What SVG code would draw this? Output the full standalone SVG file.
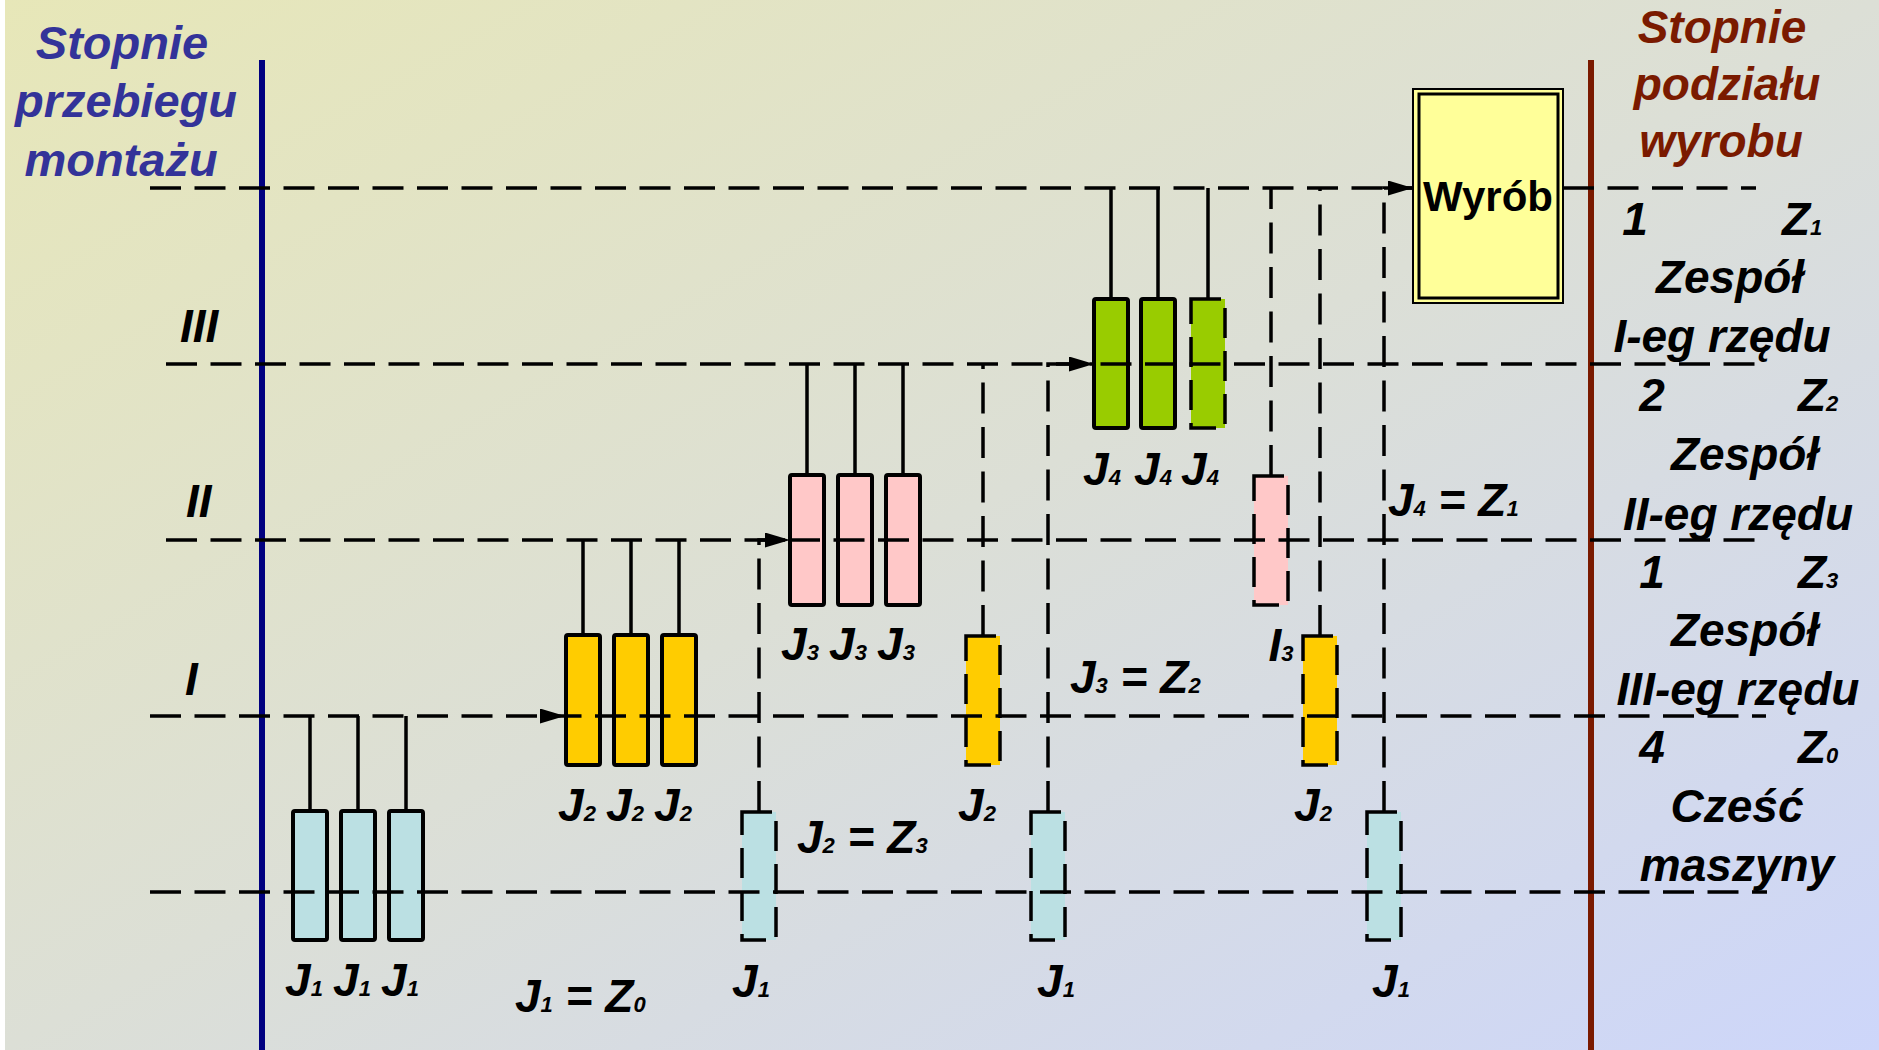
<svg xmlns="http://www.w3.org/2000/svg" width="1879" height="1050" viewBox="0 0 1879 1050">
<defs>
<linearGradient id="bg" x1="0" y1="0" x2="1" y2="1">
<stop offset="0" stop-color="#E7E7B8"/>
<stop offset="0.5" stop-color="#DCDFD6"/>
<stop offset="1" stop-color="#CDD6FA"/>
</linearGradient>
<marker id="arr" markerUnits="userSpaceOnUse" viewBox="0 0 25 15" refX="25" refY="7.5" markerWidth="25" markerHeight="15" orient="auto">
<path d="M0 0 L25 7.5 L0 15 Z" fill="#000"/>
</marker>
<style>
text{font-family:"Liberation Sans",Arial,sans-serif;font-weight:bold;font-style:italic;font-size:46px;fill:#000}
.m{text-anchor:middle}
.s{font-size:22px}
.tl{fill:#333399;font-size:47px}
.tr{fill:#7A1A00}
.up{font-style:normal;font-size:42px}
.dash{fill:none;stroke:#000;stroke-width:3.5;stroke-dasharray:31 13.5}
.solid{fill:none;stroke:#000;stroke-width:3.5}
.box{stroke:#000;stroke-width:4}
.dbox{stroke:#000;stroke-width:3.5;stroke-dasharray:30 13}
.c{fill:#BBE0E3}
.y{fill:#FFCC00}
.p{fill:#FFC8C8}
.g{fill:#99CC00}
</style>
</defs>
<rect x="0" y="0" width="1879" height="1050" fill="url(#bg)"/>
<rect x="0" y="0" width="5" height="1050" fill="#FFFFFF"/>

<g id="axes">
<line x1="262" y1="60" x2="262" y2="1050" stroke="#000080" stroke-width="6"/>
<line x1="1591" y1="60" x2="1591" y2="1050" stroke="#7A1A00" stroke-width="6"/>
</g>

<g id="titles">
<text class="m tl" x="122" y="59">Stopnie</text>
<text class="m tl" x="126" y="117">przebiegu</text>
<text class="m tl" x="121" y="176">montażu</text>
<text class="m tr" x="1722" y="43">Stopnie</text>
<text class="m tr" x="1727" y="100">podziału</text>
<text class="m tr" x="1721" y="157">wyrobu</text>
<text x="180" y="342">III</text>
<text x="186" y="517">II</text>
<text x="185" y="695">I</text>
</g>

<g id="nodes-J1-group">
<rect class="box c" x="293" y="811" width="34" height="129" rx="2"/>
<rect class="box c" x="341" y="811" width="34" height="129" rx="2"/>
<rect class="box c" x="389" y="811" width="34" height="129" rx="2"/>
<text class="m" x="304" y="996">J<tspan class="s">1</tspan></text>
<text class="m" x="352" y="996">J<tspan class="s">1</tspan></text>
<text class="m" x="400" y="996">J<tspan class="s">1</tspan></text>
</g>
<g id="nodes-J2-group">
<rect class="box y" x="566" y="635" width="34" height="130" rx="2"/>
<rect class="box y" x="614" y="635" width="34" height="130" rx="2"/>
<rect class="box y" x="662" y="635" width="34" height="130" rx="2"/>
<text class="m" x="577" y="821">J<tspan class="s">2</tspan></text>
<text class="m" x="625" y="821">J<tspan class="s">2</tspan></text>
<text class="m" x="673" y="821">J<tspan class="s">2</tspan></text>
</g>
<g id="nodes-J3-group">
<rect class="box p" x="790" y="475" width="34" height="130" rx="2"/>
<rect class="box p" x="838" y="475" width="34" height="130" rx="2"/>
<rect class="box p" x="886" y="475" width="34" height="130" rx="2"/>
<text class="m" x="800" y="660">J<tspan class="s">3</tspan></text>
<text class="m" x="848" y="660">J<tspan class="s">3</tspan></text>
<text class="m" x="896" y="660">J<tspan class="s">3</tspan></text>
</g>
<g id="nodes-J4-group">
<rect class="box g" x="1094" y="299" width="34" height="129" rx="2"/>
<rect class="box g" x="1141" y="299" width="34" height="129" rx="2"/>
<rect class="dbox g" x="1191" y="299" width="34" height="129"/>
<text class="m" x="1102" y="485">J<tspan class="s">4</tspan></text>
<text class="m" x="1153" y="485">J<tspan class="s">4</tspan></text>
<text class="m" x="1200" y="485">J<tspan class="s">4</tspan></text>
</g>
<g id="node-J1-a">
<rect class="dbox c" x="742" y="812" width="34" height="128"/>
<text class="m" x="751" y="997">J<tspan class="s">1</tspan></text>
</g>
<g id="node-J1-b">
<rect class="dbox c" x="1031" y="812" width="34" height="128"/>
<text class="m" x="1056" y="997">J<tspan class="s">1</tspan></text>
</g>
<g id="node-J1-c">
<rect class="dbox c" x="1367" y="812" width="34" height="128"/>
<text class="m" x="1391" y="997">J<tspan class="s">1</tspan></text>
</g>
<g id="node-J2-a">
<rect class="dbox y" x="966" y="636" width="34" height="129"/>
<text class="m" x="977" y="821">J<tspan class="s">2</tspan></text>
</g>
<g id="node-J2-b">
<rect class="dbox y" x="1303" y="636" width="34" height="129"/>
<text class="m" x="1313" y="821">J<tspan class="s">2</tspan></text>
</g>
<g id="node-I3">
<rect class="dbox p" x="1254" y="476" width="34" height="129"/>
<text class="m" x="1281" y="661">I<tspan class="s">3</tspan></text>
</g>
<g id="node-wyrob">
<rect x="1413" y="89" width="150" height="214" fill="#FFFF99" stroke="#000" stroke-width="2"/>
<rect x="1419" y="94" width="139" height="204" fill="#FFFF99" stroke="#000" stroke-width="3"/>
<text class="m up" x="1488" y="211">Wyrób</text>
</g>

<g id="connectors">
<path class="dash" d="M150 188 H1413"/>
<path class="dash" d="M1563 188 H1756"/>
<path class="dash" d="M166 364 H1766"/>
<path class="dash" d="M166 540 H1766"/>
<path class="dash" d="M150 716 H565" marker-end="url(#arr)"/>
<path class="dash" d="M565 716 H1766" stroke-dashoffset="415"/>
<path class="dash" d="M150 892 H1767"/>
<path class="solid" d="M310 811 V716 M358 811 V716 M406 811 V716"/>
<path class="solid" d="M583 635 V540 M631 635 V540 M679 635 V540"/>
<path class="solid" d="M807 475 V364 M855 475 V364 M903 475 V364"/>
<path class="solid" d="M1111 299 V188 M1158 299 V188 M1208 299 V188"/>
<path class="dash" d="M759 812 V540 H790" marker-end="url(#arr)"/>
<path class="dash" d="M1048 812 V364 H1094" marker-end="url(#arr)"/>
<path class="dash" d="M1384 812 V188 H1413" marker-end="url(#arr)"/>
<path class="dash" d="M983 636 V364"/>
<path class="dash" d="M1271 476 V188"/>
<path class="dash" d="M1320 636 V188"/>
</g>

<g id="equations">
<text x="515" y="1012">J<tspan class="s">1</tspan> = Z<tspan class="s">0</tspan></text>
<text x="797" y="853">J<tspan class="s">2</tspan> = Z<tspan class="s">3</tspan></text>
<text x="1070" y="693">J<tspan class="s">3</tspan> = Z<tspan class="s">2</tspan></text>
<text x="1388" y="516">J<tspan class="s">4</tspan> = Z<tspan class="s">1</tspan></text>
</g>

<g id="levels-right">
<text class="m" x="1635" y="235">1</text>
<text x="1782" y="235">Z<tspan class="s">1</tspan></text>
<text class="m" x="1730" y="293">Zespół</text>
<text class="m" x="1722" y="352">I-eg rzędu</text>
<text class="m" x="1652" y="411">2</text>
<text x="1798" y="411">Z<tspan class="s">2</tspan></text>
<text class="m" x="1745" y="470">Zespół</text>
<text class="m" x="1738" y="530">II-eg rzędu</text>
<text class="m" x="1652" y="588">1</text>
<text x="1798" y="588">Z<tspan class="s">3</tspan></text>
<text class="m" x="1745" y="646">Zespół</text>
<text class="m" x="1738" y="705">III-eg rzędu</text>
<text class="m" x="1652" y="763">4</text>
<text x="1798" y="763">Z<tspan class="s">0</tspan></text>
<text class="m" x="1737" y="822">Cześć</text>
<text class="m" x="1737" y="881">maszyny</text>
</g>
</svg>
